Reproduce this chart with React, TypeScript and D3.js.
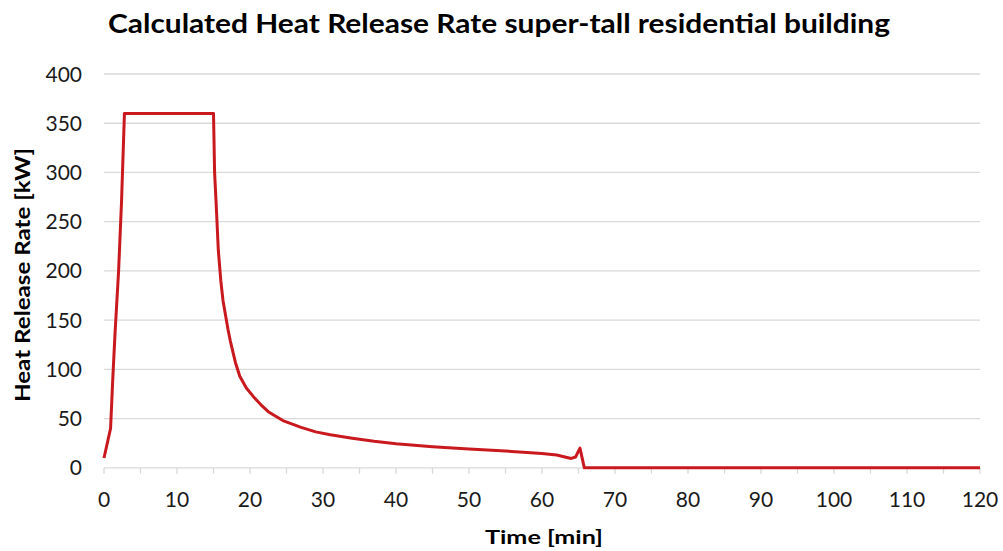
import React, { useEffect, useRef } from "react";
import * as d3 from "d3";

const timeMin = [0, 0.9, 1.2, 1.5, 2.0, 2.4, 2.8, 15, 15.15, 15.34, 15.66, 16, 16.3, 17, 17.3, 18, 18.6, 19.5, 20.5, 21.5, 22.5, 24.5, 27, 29, 31, 34, 37, 40, 45, 50, 55, 60, 62, 64, 64.6, 65.2, 65.8, 120];
const hrrKW = [10, 40, 90, 135, 200, 270, 360, 360, 300, 272, 221, 190, 170, 140, 129, 107, 93, 81, 72, 64, 57, 48, 41, 36.5, 33.5, 30, 27, 24.5, 21.5, 19, 17, 14.5, 13, 9.5, 11, 20, 0, 0];
const xTickValues = [0, 10, 20, 30, 40, 50, 60, 70, 80, 90, 100, 110, 120];
const xMinorTicks = d3.range(0, 121, 5);
const yTickValues = [0, 50, 100, 150, 200, 250, 300, 350, 400];

const title = "Calculated Heat Release Rate super-tall residential building";
const xLabel = "Time [min]";
const yLabel = "Heat Release Rate [kW]";

export default function App() {
  const ref = useRef<SVGSVGElement>(null);
  useEffect(() => {
    const svg = d3.select(ref.current);
    svg.selectAll("*").remove();
    const W = 1003, H = 551;
    const x = d3.scaleLinear().domain([0, 120]).range([104, 980]);
    const y = d3.scaleLinear().domain([0, 400]).range([467.8, 74]);
    const font = "Lato, 'Open Sans', sans-serif";

    svg.append("rect").attr("width", W).attr("height", H).attr("fill", "#fff");

    svg.append("g").selectAll("line").data(yTickValues.filter(v => v > 0)).join("line")
      .attr("x1", x(0)).attr("x2", x(120))
      .attr("y1", d => y(d)).attr("y2", d => y(d))
      .attr("stroke", "#d9d9d9").attr("stroke-width", 1.3);

    svg.append("line").attr("x1", x(0)).attr("x2", x(120)).attr("y1", y(0)).attr("y2", y(0))
      .attr("stroke", "#d9d9d9").attr("stroke-width", 1.3);
    svg.append("g").selectAll("line").data(xMinorTicks).join("line")
      .attr("x1", d => x(d)).attr("x2", d => x(d))
      .attr("y1", y(0)).attr("y2", y(0) + 6)
      .attr("stroke", "#d9d9d9").attr("stroke-width", 1.3);

    svg.append("g").selectAll("text").data(xTickValues).join("text")
      .attr("x", d => x(d)).attr("y", 507)
      .attr("text-anchor", "middle")
      .attr("font-family", font).attr("font-size", 21).attr("fill", "#1a1a1a")
      .text(d => d);

    svg.append("g").selectAll("text").data(yTickValues).join("text")
      .attr("x", 82).attr("y", d => y(d) + 7.5)
      .attr("text-anchor", "end")
      .attr("font-family", font).attr("font-size", 21).attr("fill", "#1a1a1a")
      .text(d => d);

    const pts = timeMin.map((t, i) => [t, hrrKW[i]] as [number, number]);
    const line = d3.line<[number, number]>().x(d => x(d[0])).y(d => y(d[1])).curve(d3.curveLinear);
    svg.append("path").datum(pts).attr("d", line)
      .attr("fill", "none").attr("stroke", "#c9191e").attr("stroke-width", 3)
      .attr("stroke-linejoin", "round");

    svg.append("text").attr("x", 499).attr("y", 32.5).attr("text-anchor", "middle")
      .attr("font-family", font).attr("font-weight", "bold").attr("font-size", 26).attr("fill", "#000")
      .attr("textLength", 782).attr("lengthAdjust", "spacingAndGlyphs")
      .text(title);
    svg.append("text").attr("x", 544).attr("y", 543.5).attr("text-anchor", "middle")
      .attr("font-family", font).attr("font-weight", "bold").attr("font-size", 19).attr("fill", "#000")
      .attr("textLength", 118).attr("lengthAdjust", "spacingAndGlyphs")
      .text(xLabel);
    svg.append("text").attr("transform", `translate(30,275) rotate(-90)`).attr("text-anchor", "middle")
      .attr("font-family", font).attr("font-weight", "bold").attr("font-size", 21).attr("fill", "#000")
      .attr("textLength", 254).attr("lengthAdjust", "spacingAndGlyphs")
      .text(yLabel);
  }, []);
  return <svg ref={ref} width={1003} height={551} style={{ display: "block", position: "absolute", left: 0, top: 0 }} />;
}
